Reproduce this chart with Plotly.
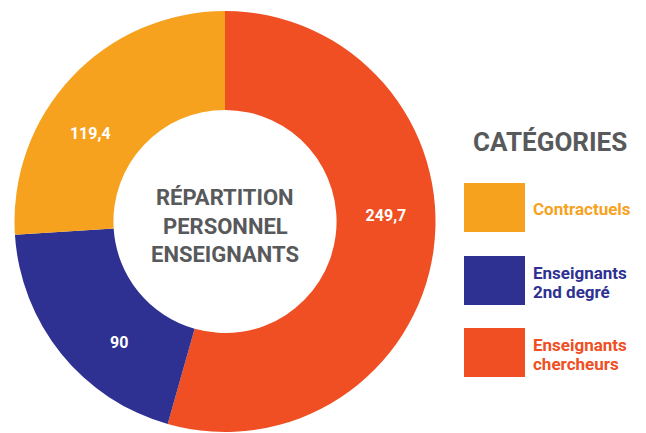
import plotly.graph_objects as go

# Data
categories = ["Enseignants chercheurs", "Enseignants 2nd degré", "Contractuels"]
values = [249.7, 90, 119.4]
colors = ["#F04E23", "#2E3192", "#F7A21E"]
legend_order = ["Contractuels", "Enseignants 2nd degré", "Enseignants chercheurs"]
legend_labels = [["Contractuels"], ["Enseignants", "2nd degré"], ["Enseignants", "chercheurs"]]
center_lines = ["RÉPARTITION", "PERSONNEL", "ENSEIGNANTS"]
legend_title = "CATÉGORIES"

# page body has an 8px margin: work in page pixels, convert to figure paper coords
OFF = 8
W, H = 646 - OFF, 433 - OFF
FONT = "Roboto"
GREY = "#58595B"


def px(x):
    return (x - OFF) / W


def py(y):
    return 1 - (y - OFF) / H


text_vals = [("%g" % v).replace(".", ",") for v in values]
domain = dict(x=[px(12), px(438)], y=[py(432), py(11)])

fig = go.Figure()
fig.add_trace(go.Pie(
    labels=categories,
    values=values,
    textinfo="none",
    marker=dict(colors=colors, line=dict(width=0)),
    hole=0.53,
    sort=False,
    direction="clockwise",
    rotation=0,
    domain=domain,
    showlegend=False,
    hoverinfo="label+value",
))
# value labels (same data, transparent slices, slightly rotated label placement)
fig.add_trace(go.Pie(
    labels=categories,
    values=values,
    text=text_vals,
    textinfo="text",
    textposition="inside",
    insidetextorientation="horizontal",
    textfont=dict(family=FONT, size=16, color="white", weight="bold"),
    marker=dict(colors=["rgba(0,0,0,0)"] * len(values), line=dict(width=0)),
    hole=0.53,
    sort=False,
    direction="clockwise",
    rotation=-10,
    domain=domain,
    showlegend=False,
    hoverinfo="skip",
))

annotations = []
for i, line in enumerate(center_lines):
    annotations.append(dict(
        x=px(225), y=py(198 + 28 * i), xref="paper", yref="paper",
        text=line, showarrow=False, xanchor="center", yanchor="middle",
        font=dict(family=FONT, size=22, color=GREY, weight="bold"),
    ))

annotations.append(dict(
    x=px(550), y=py(142), xref="paper", yref="paper",
    text=legend_title, showarrow=False, xanchor="center", yanchor="middle",
    font=dict(family=FONT, size=26, color=GREY, weight="bold"),
))

shapes = []
color_of = dict(zip(categories, colors))
tops = [183, 256, 328]
for name, lines, top in zip(legend_order, legend_labels, tops):
    c = color_of[name]
    shapes.append(dict(
        type="rect", xref="paper", yref="paper",
        x0=px(464), x1=px(525), y0=py(top + 49), y1=py(top),
        fillcolor=c, line=dict(width=0),
    ))
    if len(lines) == 1:
        ys = [top + 26]
    else:
        ys = [top + 16.5, top + 35.5]
    for ln, yy in zip(lines, ys):
        annotations.append(dict(
            x=px(531), y=py(yy), xref="paper", yref="paper",
            text=ln, showarrow=False, xanchor="left", yanchor="middle", align="left",
            font=dict(family=FONT, size=17, color=c, weight="bold"),
        ))

fig.update_layout(
    width=W, height=H,
    margin=dict(l=0, r=0, t=0, b=0),
    paper_bgcolor="white", plot_bgcolor="white",
    annotations=annotations, shapes=shapes,
)

fig.write_html("out.html")
